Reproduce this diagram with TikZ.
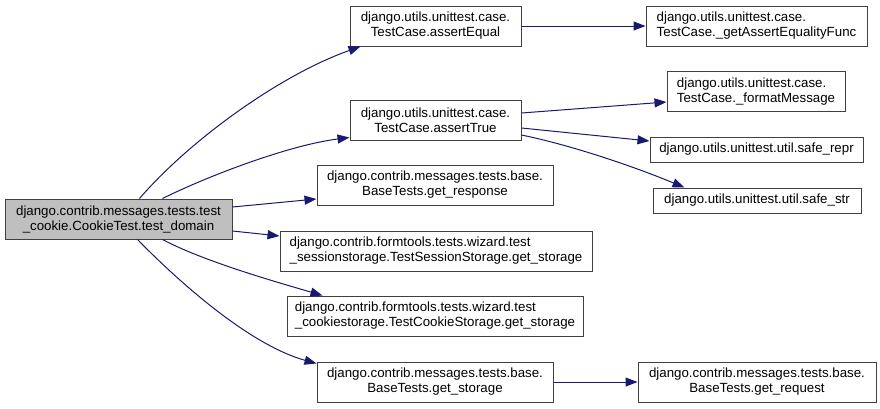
\documentclass[tikz,border=0pt]{standalone}
\usepackage{fontspec}
\setmainfont{Liberation Sans}
\usetikzlibrary{arrows.meta}
\definecolor{edgecol}{RGB}{25,25,112}
\definecolor{boxline}{RGB}{64,64,64}
\definecolor{mainfill}{RGB}{191,191,191}
\begin{document}
\begin{tikzpicture}[x=1pt,y=-1pt,
  fnbox/.style={draw=boxline, line width=1pt, fill=white, inner sep=0pt, align=center,
    font=\fontsize{13.3}{15}\selectfont},
  twoline/.style={minimum height=40pt},
  oneline/.style={minimum height=25pt},
  call/.style={draw=edgecol, line width=1pt, -{Triangle[length=12pt,width=9pt]}}
]
\useasboundingbox (0,0) rectangle (880,408);

\node[fnbox, twoline, fill=mainfill, minimum width=227pt] (main) at (118.5,219)
  {django.contrib.messages.tests.test\\\_cookie.CookieTest.test\_domain};

\node[fnbox, twoline, minimum width=171pt] (aeq) at (435.5,26)
  {django.utils.unittest.case.\\TestCase.assertEqual};
\node[fnbox, twoline, minimum width=171pt] (atrue) at (435.5,120)
  {django.utils.unittest.case.\\TestCase.assertTrue};
\node[fnbox, twoline, minimum width=236pt] (gresp) at (435,185)
  {django.contrib.messages.tests.base.\\BaseTests.get\_response};
\node[fnbox, twoline, align=left, minimum width=312pt] (sess) at (436,251)
  {django.contrib.formtools.tests.wizard.test\\\_sessionstorage.TestSessionStorage.get\_storage};
\node[fnbox, twoline, align=left, minimum width=296pt] (cook) at (435,316)
  {django.contrib.formtools.tests.wizard.test\\\_cookiestorage.TestCookieStorage.get\_storage};
\node[fnbox, twoline, minimum width=236pt] (gstor) at (435,382)
  {django.contrib.messages.tests.base.\\BaseTests.get\_storage};

\node[fnbox, twoline, align=left, minimum width=221pt] (geteq) at (756.5,26)
  {django.utils.unittest.case.\\TestCase.\_getAssertEqualityFunc};
\node[fnbox, twoline, align=left, minimum width=178pt] (fmsg) at (756,91.5)
  {django.utils.unittest.case.\\TestCase.\_formatMessage};
\node[fnbox, oneline, minimum width=213pt] (srepr) at (756.5,149.5)
  {django.utils.unittest.util.safe\_repr};
\node[fnbox, oneline, minimum width=208pt] (sstr) at (757,200.5)
  {django.utils.unittest.util.safe\_str};
\node[fnbox, twoline, minimum width=238pt] (greq) at (757,382)
  {django.contrib.messages.tests.base.\\BaseTests.get\_request};

% edges from main
\draw[call] ([xshift=135pt]main.north west) .. controls (190,140) and (280,75) .. ([xshift=11pt]aeq.south west);
\draw[call] ([xshift=158pt]main.north west) .. controls (210,175) and (290,145) .. ([yshift=3pt]atrue.south west);
\draw[call] ([yshift=12pt]main.east) -- ([yshift=-14pt]gresp.west);
\draw[call] ([yshift=-12pt]main.east) -- ([yshift=15pt]sess.west);
\draw[call] ([xshift=158pt]main.south west) .. controls (205,262) and (280,283) .. ([xshift=36pt]cook.north west);
\draw[call] ([xshift=133pt]main.south west) .. controls (180,283) and (250,345) .. ([yshift=-2pt]gstor.north west);

% second level
\draw[call] (aeq.east) -- (geteq.west);
\draw[call] ([yshift=7pt]atrue.east) -- ([yshift=-10.5pt]fmsg.west);
\draw[call] ([yshift=-8pt]atrue.east) -- ([yshift=8.5pt]srepr.west);
\draw[call] ([yshift=-15pt]atrue.east) .. controls (570,145) and (630,165) .. ([xshift=32pt]sstr.north west);
\draw[call] (gstor.east) -- (greq.west);
\end{tikzpicture}
\end{document}
